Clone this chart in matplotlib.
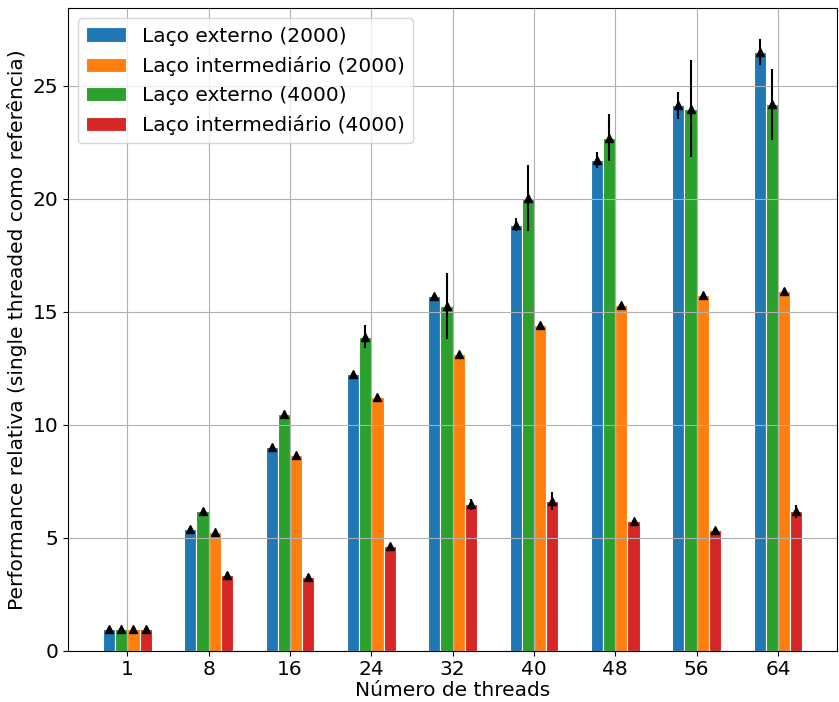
import matplotlib
matplotlib.use('Agg')
import matplotlib.pyplot as plt
import numpy as np

threads = ['1', '8', '16', '24', '32', '40', '48', '56', '64']

ext_2000 = [0.96, 5.39, 9.01, 12.23, 15.71, 18.85, 21.69, 24.13, 26.49]
ext_2000_err = [0.03, 0.08, 0.08, 0.08, 0.08, 0.28, 0.35, 0.6, 0.57]
int_2000 = [0.96, 5.25, 8.64, 11.23, 13.12, 14.42, 15.31, 15.72, 15.9]
int_2000_err = [0.03, 0.06, 0.06, 0.06, 0.06, 0.06, 0.06, 0.06, 0.06]
ext_4000 = [0.96, 6.18, 10.49, 13.9, 15.26, 20.02, 22.7, 23.97, 24.17]
ext_4000_err = [0.03, 0.06, 0.06, 0.5, 1.45, 1.45, 1.05, 2.15, 1.56]
int_4000 = [0.96, 3.34, 3.25, 4.62, 6.47, 6.62, 5.73, 5.36, 6.17]
int_4000_err = [0.03, 0.06, 0.06, 0.06, 0.25, 0.4, 0.06, 0.06, 0.28]

plt.rcParams['font.size'] = 14.5

fig, ax = plt.subplots(figsize=(8.39, 7.02), dpi=100)
x = np.arange(len(threads))
w = 0.15

# bars drawn blue, green, orange, red; legend in series order
series = [
    (ext_2000, ext_2000_err, 'Laço externo (2000)', 'tab:blue', -1.5),
    (int_2000, int_2000_err, 'Laço intermediário (2000)', 'tab:orange', 0.5),
    (ext_4000, ext_4000_err, 'Laço externo (4000)', 'tab:green', -0.5),
    (int_4000, int_4000_err, 'Laço intermediário (4000)', 'tab:red', 1.5),
]
for vals, err, label, color, off in series:
    ax.bar(x + off * w, vals, w, label=label, color=color,
           edgecolor='white', linewidth=0.8)
for vals, err, label, color, off in series:
    ax.errorbar(x + off * w, vals, yerr=err, fmt='^', color='black',
                markersize=6, elinewidth=1.5)

ax.set_xticks(x)
ax.set_xticklabels(threads)
ax.set_xlabel('Número de threads', labelpad=1)
ax.set_ylabel('Performance relativa (single threaded como referência)')
ax.grid(True)
ax.legend(loc='upper left', fontsize=14.5)
plt.subplots_adjust(left=0.081, right=0.998, top=0.988, bottom=0.073)
plt.savefig('out.png')
